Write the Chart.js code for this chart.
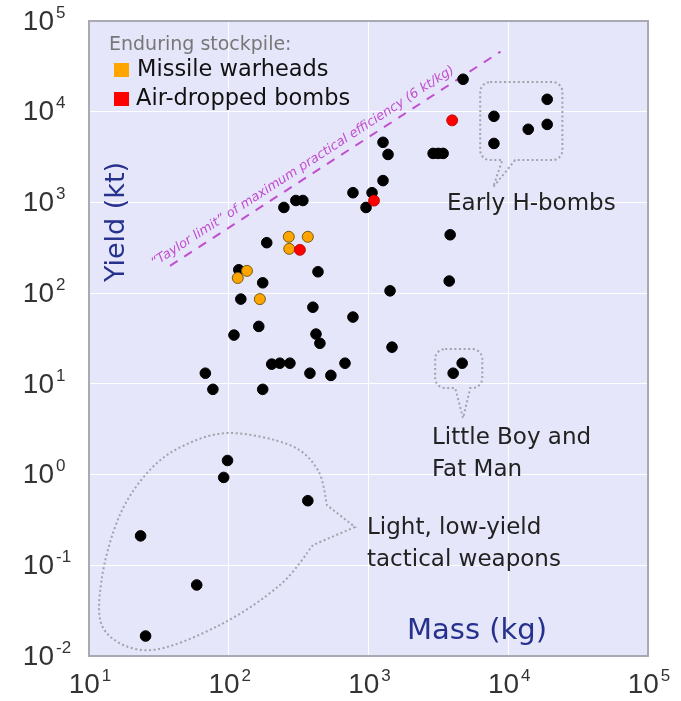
<!DOCTYPE html>
<html>
<head>
<meta charset="utf-8">
<script src="https://cdn.jsdelivr.net/npm/chart.js@4.4.0/dist/chart.umd.min.js"></script>
<style>
  html, body { margin: 0; padding: 0; background: #fff; }
</style>
</head>
<body>
<canvas id="chart" width="681" height="701"></canvas>
<script>
// 1. data (mass in kg, yield in kt)
const blackMass = [4750, 7900, 7900, 19000, 19000, 13900, 1270, 1380, 2900, 3150, 3420,
  1270, 774, 1060, 960, 248, 302, 339, 3840, 187, 118, 435, 175, 122, 400, 774, 164, 109,
  421, 449, 203, 232, 274, 679, 68, 381, 538, 77, 175, 3780, 1426, 1473, 4680, 4035,
  98, 92, 368, 23.4, 59, 25.4];
const blackYield = [22800, 8900, 4470, 13700, 7250, 6400, 4600, 3380, 3470, 3470, 3470,
  1740, 1280, 1280, 880, 880, 1050, 1050, 440, 360, 181, 172, 130, 86, 70, 54.5, 43, 34.5,
  35.4, 28, 16.5, 16.9, 16.9, 16.9, 13.1, 13.1, 12.4, 8.7, 8.7, 136, 106, 25.4, 16.9, 13.1,
  1.43, 0.93, 0.515, 0.211, 0.0607, 0.0166];

const missileMass = [269, 368, 271, 135, 116, 167];
const missileYield = [418, 418, 308, 176, 147, 86];

const bombMass = [3970, 1095, 323];
const bombYield = [8030, 1047, 300];

const taylorMass = [38, 8800];
const taylorYield = [200, 46000];

const xTicks = [10, 100, 1000, 10000, 100000];
const xTickExp = ['1', '2', '3', '4', '5'];
const yTicks = [0.01, 0.1, 1, 10, 100, 1000, 10000, 100000];
const yTickExp = ['-2', '-1', '0', '1', '2', '3', '4', '5'];

// callout outlines, in data coordinates
const hBombBox = [[6300, 24400], [2930, 21200]];
const hBombTail = [[11200, 2930], [7810, 1480], [9060, 2930]];
const fatManBox = [[3000, 6520], [9.0, 24.2]];
const fatManTail = [[5350, 9.0], [4750, 4.2], [4170, 9.0]];
const tacticalBody = [[400, 0.167], [232, 0.0605], [86, 0.0219], [27.2, 0.0116], [12.9, 0.0193],
  [12.3, 0.0687], [16.6, 0.357], [27.2, 1.12], [48.4, 2.11], [102, 2.87], [274, 2.11],
  [434, 1.12], [504, 0.461]];
const tacticalTail = [[504, 0.461], [800, 0.264], [400, 0.167]];

const pts = (xs, ys) => xs.map((x, i) => ({ x: x, y: ys[i] }));

const FONT = '"DejaVu Sans", sans-serif';
const TICK_FONT = '"Liberation Sans", Arial, sans-serif';

// 2. drawing helpers
function dotted(ctx) {
  ctx.strokeStyle = '#a2a2aa';
  ctx.lineWidth = 2;
  ctx.setLineDash([2, 2.6]);
}

function boxCallout(ctx, xs, ys, box, tail) {
  const l = xs.getPixelForValue(box[0][0]), r = xs.getPixelForValue(box[0][1]);
  const b = ys.getPixelForValue(box[1][0]), t = ys.getPixelForValue(box[1][1]);
  const rad = 10;
  const tp = tail.map(p => [xs.getPixelForValue(p[0]), ys.getPixelForValue(p[1])]);
  ctx.beginPath();
  ctx.moveTo(l + rad, t);
  ctx.arcTo(r, t, r, b, rad);
  ctx.arcTo(r, b, l, b, rad);
  tp.forEach(p => ctx.lineTo(p[0], p[1]));
  ctx.arcTo(l, b, l, t, rad);
  ctx.arcTo(l, t, r, t, rad);
  ctx.closePath();
  ctx.stroke();
}

function smoothPath(ctx, p) {
  ctx.moveTo(p[0][0], p[0][1]);
  for (let i = 0; i < p.length - 1; i++) {
    const p0 = p[Math.max(i - 1, 0)], p1 = p[i], p2 = p[i + 1], p3 = p[Math.min(i + 2, p.length - 1)];
    ctx.bezierCurveTo(
      p1[0] + (p2[0] - p0[0]) / 6, p1[1] + (p2[1] - p0[1]) / 6,
      p2[0] - (p3[0] - p1[0]) / 6, p2[1] - (p3[1] - p1[1]) / 6,
      p2[0], p2[1]);
  }
}

function powLabel(ctx, exp, x, y, align) {
  ctx.font = '28px ' + TICK_FONT;
  const wb = ctx.measureText('10').width;
  ctx.font = '17px ' + TICK_FONT;
  const we = ctx.measureText(exp).width;
  let bx;
  if (align === 'right') bx = x - wb;
  else bx = x - (wb + 2 + we) / 2;
  ctx.textAlign = 'left';
  ctx.textBaseline = 'middle';
  ctx.fillStyle = '#333';
  ctx.font = '28px ' + TICK_FONT;
  ctx.fillText('10', bx, y);
  ctx.font = '17px ' + TICK_FONT;
  ctx.fillText(exp, bx + wb + 2, y - 9);
}

const decorPlugin = {
  id: 'decor',
  beforeDraw(chart) {
    const { ctx, chartArea: a } = chart;
    ctx.save();
    ctx.fillStyle = '#e6e6fa';
    ctx.fillRect(a.left, a.top, a.right - a.left, a.bottom - a.top);
    ctx.restore();
  },
  beforeDatasetsDraw(chart) {
    const { ctx } = chart;
    const xs = chart.scales.x, ys = chart.scales.y;
    ctx.save();
    dotted(ctx);
    boxCallout(ctx, xs, ys, hBombBox, hBombTail);
    boxCallout(ctx, xs, ys, fatManBox, fatManTail);
    const body = tacticalBody.map(p => [xs.getPixelForValue(p[0]), ys.getPixelForValue(p[1])]);
    const tail = tacticalTail.map(p => [xs.getPixelForValue(p[0]), ys.getPixelForValue(p[1])]);
    ctx.beginPath();
    smoothPath(ctx, body);
    tail.forEach(p => ctx.lineTo(p[0], p[1]));
    ctx.stroke();
    ctx.restore();

    // Taylor limit text along the dashed line
    const x0 = xs.getPixelForValue(taylorMass[0]), y0 = ys.getPixelForValue(taylorYield[0]);
    const x1 = xs.getPixelForValue(taylorMass[1]), y1 = ys.getPixelForValue(taylorYield[1]);
    const ang = Math.atan2(y1 - y0, x1 - x0);
    const f = 0.42;
    const cx = x0 + (x1 - x0) * f + Math.sin(ang) * 11;
    const cy = y0 + (y1 - y0) * f - Math.cos(ang) * 11;
    ctx.save();
    ctx.translate(cx, cy);
    ctx.rotate(ang);
    ctx.fillStyle = '#c04fcf';
    ctx.font = 'italic 13px ' + FONT;
    ctx.textAlign = 'center';
    ctx.textBaseline = 'middle';
    ctx.fillText('\u201cTaylor limit\u201d of maximum practical efficiency (6 kt/kg)', 0, 0);
    ctx.restore();
  },
  afterDraw(chart) {
    const { ctx, chartArea: a } = chart;
    const xs = chart.scales.x, ys = chart.scales.y;
    ctx.save();
    // frame
    ctx.strokeStyle = '#a9a9b3';
    ctx.lineWidth = 2;
    ctx.strokeRect(a.left, a.top, a.right - a.left, a.bottom - a.top);

    // tick labels
    yTicks.forEach((v, i) => powLabel(ctx, yTickExp[i], 54, ys.getPixelForValue(v) + 1, 'right'));
    xTicks.forEach((v, i) => powLabel(ctx, xTickExp[i], xs.getPixelForValue(v) + 1, 685, 'center'));

    // axis titles
    ctx.fillStyle = '#25318c';
    ctx.font = '29px ' + FONT;
    ctx.textAlign = 'left';
    ctx.textBaseline = 'middle';
    ctx.fillText('Mass (kg)', 407, 631);
    ctx.save();
    ctx.translate(117, 222);
    ctx.rotate(-Math.PI / 2);
    ctx.textAlign = 'center';
    ctx.font = '27px ' + FONT;
    ctx.fillText('Yield (kt)', 0, 0);
    ctx.restore();

    // legend
    ctx.fillStyle = '#777';
    ctx.font = '19px ' + FONT;
    ctx.fillText('Enduring stockpile:', 109, 45);
    ctx.fillStyle = '#ffa500';
    ctx.fillRect(114, 63, 15, 14);
    ctx.fillStyle = '#ff0000';
    ctx.fillRect(114, 92, 15, 14);
    ctx.fillStyle = '#111';
    ctx.font = '22.5px ' + FONT;
    ctx.fillText('Missile warheads', 137, 70);
    ctx.fillText('Air-dropped bombs', 136, 99);

    // callout labels
    ctx.fillStyle = '#222';
    ctx.font = '23px ' + FONT;
    ctx.fillText('Early H-bombs', 447, 204);
    ctx.fillText('Little Boy and', 432, 438);
    ctx.fillText('Fat Man', 432, 470);
    ctx.fillText('Light, low-yield', 367, 528);
    ctx.fillText('tactical weapons', 367, 560);
    ctx.restore();
  }
};

// 3. chart
const axis = (ticks, fit) => ({
  type: 'logarithmic',
  min: ticks[0],
  max: ticks[ticks.length - 1],
  afterBuildTicks: s => { s.ticks = ticks.map(v => ({ value: v })); },
  afterFit: fit,
  ticks: { display: false },
  grid: { color: '#ffffff', lineWidth: 1, drawTicks: false },
  border: { display: false }
});

new Chart(document.getElementById('chart'), {
  type: 'scatter',
  data: {
    datasets: [
      { label: 'Air-dropped bombs', data: pts(bombMass, bombYield), backgroundColor: '#ff0000', borderColor: '#b00000', borderWidth: 0.8, pointRadius: 5.5 },
      { label: 'Missile warheads', data: pts(missileMass, missileYield), backgroundColor: '#ffa500', borderColor: '#7a5a10', borderWidth: 1, pointRadius: 5.5 },
      { label: 'Other', data: pts(blackMass, blackYield), backgroundColor: '#000', borderColor: '#000', borderWidth: 1, pointRadius: 5.3 },
      { label: 'Taylor limit', data: pts(taylorMass, taylorYield), showLine: true, borderColor: '#c04fcf', borderWidth: 2, borderDash: [9, 8], pointRadius: 0, fill: false }
    ]
  },
  options: {
    responsive: false,
    animation: false,
    events: [],
    layout: { padding: { left: 0, right: 33, top: 21, bottom: 0 } },
    plugins: { legend: { display: false }, tooltip: { enabled: false } },
    scales: {
      x: axis(xTicks, s => { s.height = 45; }),
      y: axis(yTicks, s => { s.width = 89; })
    }
  },
  plugins: [decorPlugin]
});
</script>
</body>
</html>
